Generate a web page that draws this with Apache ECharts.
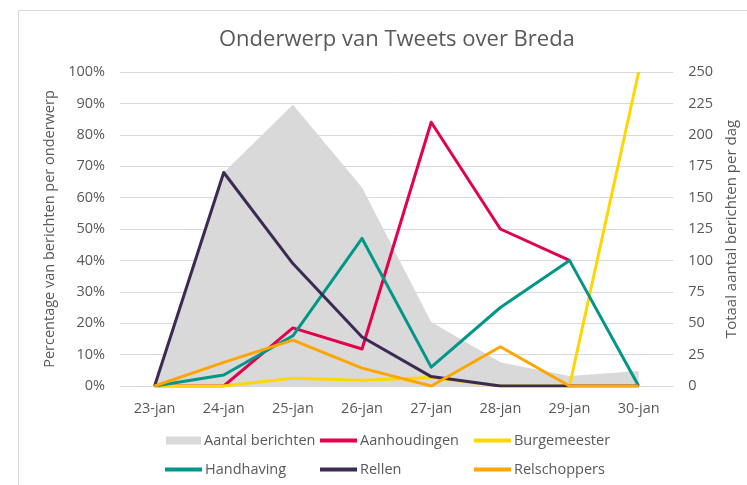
<!DOCTYPE html>
<html>
<head>
<meta charset="utf-8">
<script src="https://cdn.jsdelivr.net/npm/echarts@6/dist/echarts.min.js"></script>
<style>
html,body{margin:0;padding:0;background:#fff;}
#chart{width:747px;height:485px;}
</style>
</head>
<body>
<div id="chart"></div>
<script>
const categories = ['23-jan','24-jan','25-jan','26-jan','27-jan','28-jan','29-jan','30-jan'];
const aantalBerichten = [3, 170, 224, 158, 51, 19, 8, 12];
const aanhoudingen   = [0, 0, 18.5, 11.8, 84, 50, 40, null];
const burgemeester   = [0, 0, 2.5, 1.8, 2.7, 0, 0, 100];
const handhaving     = [0, 3.5, 16, 47, 6, 25, 40, 0];
const rellen         = [0, 68, 39, 15.6, 3, 0, 0, 0];
const relschoppers   = [0, 7.5, 14.6, 5.7, 0, 12.5, 0, 0];
const leftTicks = [0, 100, 10];
const rightTicks = [0, 250, 25];

const FONT = 'Open Sans';
const TXT = '#595959';
const GRID = '#D9D9D9';
const colors = {
  aantal: '#D9D9D9', aanh: '#E2004F', burg: '#FFD700',
  hand: '#009688', rellen: '#3C2A55', rels: '#FFA500'
};

function lineSeries(name, data, color) {
  return {
    name, type: 'line', data, yAxisIndex: 0, symbol: 'none', smooth: false,
    lineStyle: { color, width: 3, join: 'round' }, itemStyle: { color },
    connectNulls: false
  };
}

function legend(name, left, top, isArea) {
  return {
    data: [name], left, top, padding: 0, orient: 'horizontal',
    icon: 'rect', itemWidth: isArea ? 35 : 37, itemHeight: isArea ? 8 : 4,
    itemGap: 0, selectedMode: false,
    textStyle: { color: TXT, fontSize: 14.5, fontFamily: FONT, padding: [0, 0, 0, -2] }
  };
}

const chart = echarts.init(document.getElementById('chart'), null, { renderer: 'canvas' });
chart.setOption({
  animation: false,
  backgroundColor: '#fff',
  graphic: [{
    type: 'rect', z: -10,
    shape: { x: 18.5, y: 10.5, width: 800, height: 600 },
    style: { fill: 'none', stroke: '#D9D9D9', lineWidth: 1 }
  }],
  title: {
    text: 'Onderwerp van Tweets over Breda', left: 214, top: 24,
    textStyle: { color: TXT, fontSize: 22, fontWeight: 'normal', fontFamily: FONT }
  },
  legend: [
    legend('Aantal berichten', 166, 433, true),
    legend('Aanhoudingen', 320, 433, false),
    legend('Burgemeester', 474, 433, false),
    legend('Handhaving', 165, 462, false),
    legend('Rellen', 320, 462, false),
    legend('Relschoppers', 474, 462, false)
  ],
  grid: { left: 120, right: 70, top: 72, bottom: 99 },
  xAxis: {
    type: 'category', data: categories, boundaryGap: true,
    axisLine: { show: true, lineStyle: { color: GRID } },
    axisTick: { show: false },
    axisLabel: { color: TXT, fontSize: 14.5, fontFamily: FONT, margin: 15 }
  },
  yAxis: [{
    type: 'value', min: leftTicks[0], max: leftTicks[1], interval: leftTicks[2],
    name: 'Percentage van berichten per onderwerp', nameLocation: 'middle', nameGap: 52,
    nameTextStyle: { color: TXT, fontSize: 14.5, fontFamily: FONT },
    axisLine: { show: false }, axisTick: { show: false },
    axisLabel: { color: TXT, fontSize: 14.5, fontFamily: FONT, margin: 15, formatter: '{value}%' },
    splitLine: { lineStyle: { color: GRID, width: 1 } }
  }, {
    type: 'value', min: rightTicks[0], max: rightTicks[1], interval: rightTicks[2],
    name: 'Totaal aantal berichten per dag', nameLocation: 'middle', nameGap: 48,
    nameTextStyle: { color: TXT, fontSize: 15, fontFamily: FONT },
    axisLine: { show: false }, axisTick: { show: false },
    axisLabel: { color: TXT, fontSize: 14.5, fontFamily: FONT, margin: 15 },
    splitLine: { show: false }
  }],
  series: [
    {
      name: 'Aantal berichten', type: 'line', data: aantalBerichten, yAxisIndex: 1,
      symbol: 'none', lineStyle: { width: 0, color: colors.aantal },
      itemStyle: { color: colors.aantal },
      areaStyle: { color: colors.aantal, opacity: 1 }, z: 1
    },
    lineSeries('Aanhoudingen', aanhoudingen, colors.aanh),
    lineSeries('Burgemeester', burgemeester, colors.burg),
    lineSeries('Handhaving', handhaving, colors.hand),
    lineSeries('Rellen', rellen, colors.rellen),
    lineSeries('Relschoppers', relschoppers, colors.rels)
  ]
});
</script>
</body>
</html>
